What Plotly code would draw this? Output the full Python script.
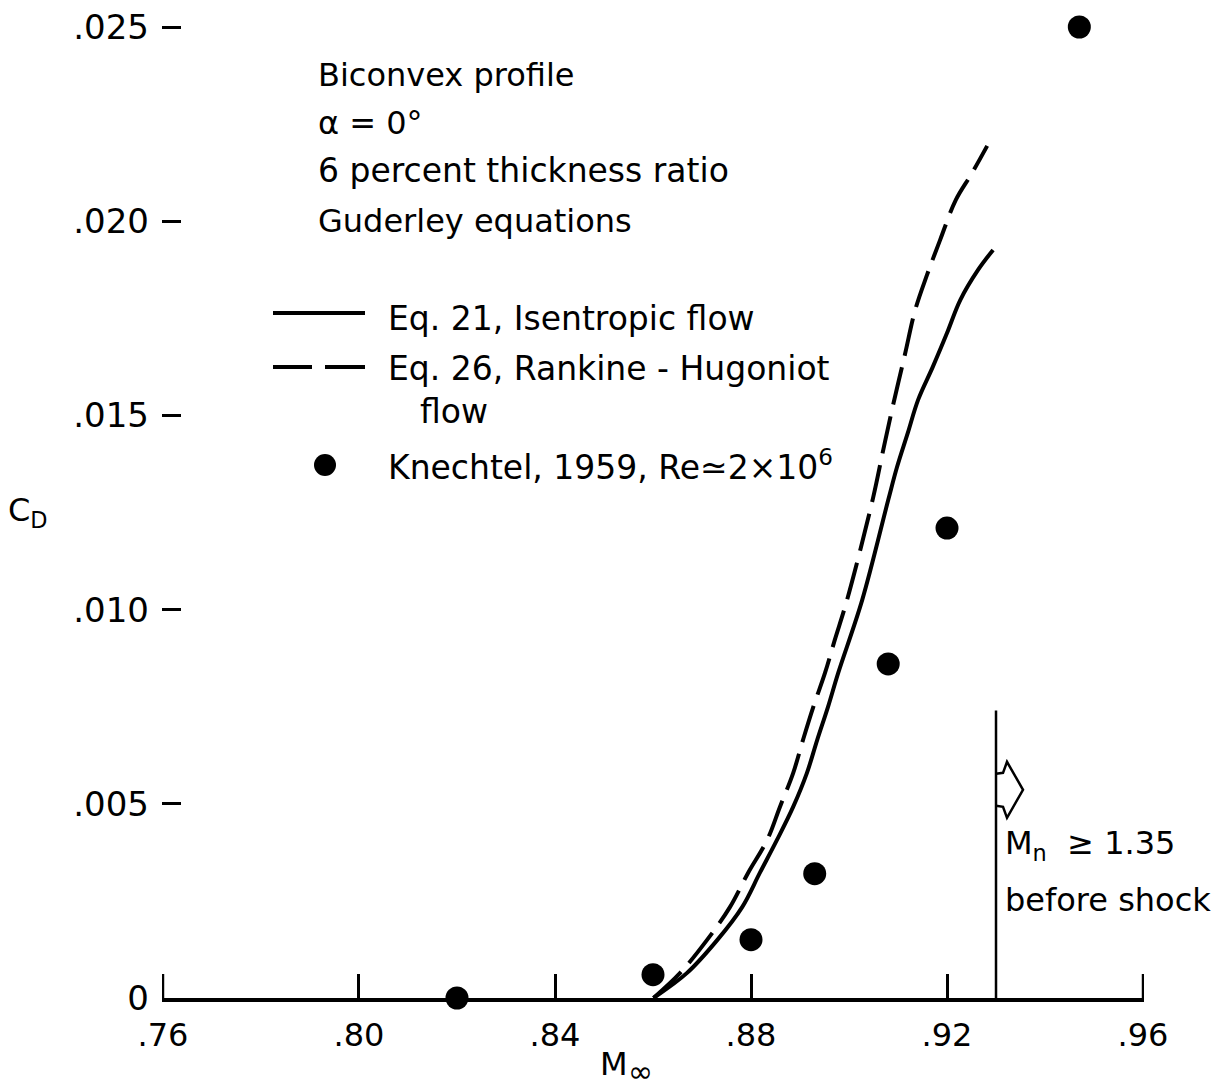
import plotly.graph_objects as go

# Drag coefficient of a 6-percent biconvex profile vs free-stream Mach number
# Eq. 21 (isentropic flow)
mach_isentropic = [0.8601, 0.8669, 0.8731, 0.8782, 0.8818, 0.8853, 0.8886, 0.8914,
                   0.8935, 0.8957, 0.8978, 0.9027, 0.9080, 0.9098, 0.9120, 0.9141,
                   0.9171, 0.9200, 0.9227, 0.9263, 0.9294]
cd_isentropic = [0.0, 0.00064, 0.00149, 0.00234, 0.00322, 0.00407, 0.00492, 0.00579,
                 0.00664, 0.00749, 0.00837, 0.01025, 0.01282, 0.01367, 0.01455, 0.01540,
                 0.01625, 0.01712, 0.01797, 0.01874, 0.01926]

# Eq. 26 (Rankine-Hugoniot flow)
mach_rh = [0.8601, 0.8655, 0.8710, 0.8757, 0.8794, 0.8833, 0.8859, 0.8886, 0.8906,
           0.8927, 0.8951, 0.8971, 0.8996, 0.9049, 0.9069, 0.9090, 0.9114, 0.9135,
           0.9159, 0.9186, 0.9218, 0.9251, 0.9282]
cd_rh = [0.0, 0.00064, 0.00149, 0.00234, 0.00322, 0.00407, 0.00492, 0.00579, 0.00664,
         0.00749, 0.00837, 0.00922, 0.01025, 0.01287, 0.01406, 0.01527, 0.01656, 0.01771,
         0.01861, 0.01952, 0.02055, 0.02124, 0.02194]

# Knechtel, 1959 experiments
mach_knechtel = [0.820, 0.860, 0.880, 0.893, 0.908, 0.920, 0.947]
cd_knechtel = [0.0, 0.0006, 0.0015, 0.0032, 0.0086, 0.0121, 0.0250]

x_tickvals = [0.76, 0.80, 0.84, 0.88, 0.92, 0.96]
x_ticktext = [".76", ".80", ".84", ".88", ".92", ".96"]
y_tickvals = [0.0, 0.005, 0.010, 0.015, 0.020, 0.025]
y_ticktext = ["0", ".005", ".010", ".015", ".020", ".025"]

# Mach number at which M_n >= 1.35 before the shock
mach_shock = 0.93
shock_marker_top = 0.0074

FONT = "DejaVu Sans"
W, H = 1214, 1089
ML, MR, MT, MB = 162, 70, 8, 91
X_RANGE = [0.7598, 0.9602]
PX_PER_X = (W - ML - MR) / (X_RANGE[1] - X_RANGE[0])
PX_PER_Y = 38840.0
Y_RANGE = [0.0, (H - MT - MB) / PX_PER_Y]
TICK_LEN = 24


def paper_x(px):
    return (px - ML) / (W - ML - MR)


def paper_y(py):
    return (H - MB - py) / (H - MT - MB)


fig = go.Figure()

fig.add_trace(go.Scatter(
    x=mach_isentropic, y=cd_isentropic, mode="lines",
    line=dict(color="black", width=4, shape="spline", smoothing=1.0),
    cliponaxis=False, showlegend=False))

fig.add_trace(go.Scatter(
    x=mach_rh, y=cd_rh, mode="lines",
    line=dict(color="black", width=4, dash="38px,12px", shape="spline", smoothing=1.0),
    cliponaxis=False, showlegend=False))

fig.add_trace(go.Scatter(
    x=mach_knechtel, y=cd_knechtel, mode="markers",
    marker=dict(color="black", size=23, line=dict(width=0)),
    cliponaxis=False, showlegend=False))

shapes = []

# end ticks of the Mach axis
for xv in (x_tickvals[0], x_tickvals[-1]):
    shapes.append(dict(type="line", xref="x", yref="y", x0=xv, x1=xv,
                       y0=0, y1=TICK_LEN / PX_PER_Y, line=dict(color="black", width=2.5)))

# vertical marker at the shock Mach number
shapes.append(dict(type="line", xref="x", yref="y", x0=mach_shock, x1=mach_shock,
                   y0=0, y1=shock_marker_top, line=dict(color="black", width=2.5)))

# hollow arrow pointing to the right of the marker
arrow_y = 0.00536
pts = [(0, 16), (7, 17), (11, 28), (27, 0), (11, -28), (7, -17), (0, -16)]
path = ""
for i, (dx, dy) in enumerate(pts):
    cmd = "M" if i == 0 else "L"
    path += f"{cmd} {mach_shock + dx / PX_PER_X:.6f},{arrow_y + dy / PX_PER_Y:.7f} "
shapes.append(dict(type="path", xref="x", yref="y", path=path.strip(),
                   line=dict(color="black", width=2.5), fillcolor="rgba(0,0,0,0)"))

# key samples
shapes.append(dict(type="line", xref="paper", yref="paper",
                   x0=paper_x(273), x1=paper_x(365), y0=paper_y(313), y1=paper_y(313),
                   line=dict(color="black", width=4)))
shapes.append(dict(type="line", xref="paper", yref="paper",
                   x0=paper_x(273), x1=paper_x(312), y0=paper_y(367), y1=paper_y(367),
                   line=dict(color="black", width=4)))
shapes.append(dict(type="line", xref="paper", yref="paper",
                   x0=paper_x(325), x1=paper_x(365), y0=paper_y(367), y1=paper_y(367),
                   line=dict(color="black", width=4)))
shapes.append(dict(type="circle", xref="paper", yref="paper",
                   xsizemode="pixel", ysizemode="pixel",
                   xanchor=paper_x(325), yanchor=paper_y(465),
                   x0=-11, x1=11, y0=-11, y1=11,
                   fillcolor="black", line=dict(color="black", width=0)))

annotations = []


def label(text, px, py, size=32):
    annotations.append(dict(text=text, xref="paper", yref="paper",
                            x=paper_x(px), y=paper_y(py), xanchor="left", yanchor="middle",
                            showarrow=False, font=dict(family=FONT, size=size, color="black")))


label("Biconvex profile", 316, 75)
label("α = 0°", 316, 123)
label("6 percent thickness ratio", 316, 171, 33)
label("Guderley equations", 316, 221)
label("Eq. 21, Isentropic flow", 386, 318, 33)
label("Eq. 26, Rankine - Hugoniot", 386, 368, 33)
label("flow", 418, 412, 33)
label("Knechtel, 1959, Re≃2×10<sup>6</sup>", 386, 465, 33)
label("M<sub>n</sub>\u00a0\u00a0≥ 1.35", 1003, 845)
label("before shock", 1003, 900)
label("C<sub>D</sub>", 6, 512)
label("M", 598, 1064)
label("∞", 626, 1071, 30)

fig.update_layout(
    width=W, height=H,
    margin=dict(l=ML, r=MR, t=MT, b=MB),
    paper_bgcolor="white", plot_bgcolor="white",
    shapes=shapes, annotations=annotations,
    showlegend=False,
    xaxis=dict(range=X_RANGE, tickvals=x_tickvals, ticktext=x_ticktext,
               showline=True, linecolor="black", linewidth=3.5,
               ticks="inside", ticklen=TICK_LEN, tickwidth=2.5, tickcolor="black",
               showgrid=False, zeroline=False, ticklabelstandoff=6,
               tickfont=dict(family=FONT, size=32, color="black")),
    yaxis=dict(range=Y_RANGE, tickvals=y_tickvals, ticktext=y_ticktext,
               showline=False, ticks="inside", ticklen=19, tickwidth=2.5,
               tickcolor="black", showgrid=False, zeroline=False,
               ticklabelstandoff=12,
               tickfont=dict(family=FONT, size=34, color="black")),
)

fig.write_html("out.html")
